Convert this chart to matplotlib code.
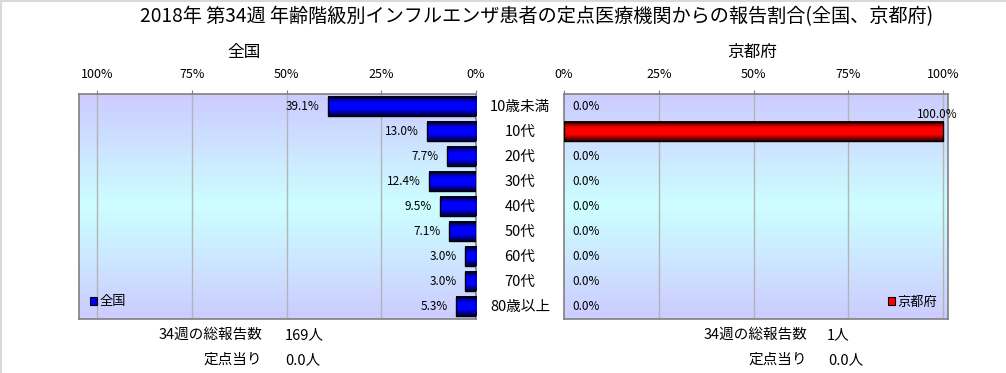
import numpy as np
import matplotlib
matplotlib.use('Agg')
from matplotlib import pyplot as plt
from matplotlib.colors import LinearSegmentedColormap
from matplotlib.patches import Patch
from matplotlib.lines import Line2D
import matplotlib.transforms as mtransforms

plt.rcParams['font.family'] = ['Noto Sans CJK JP', 'DejaVu Sans']

title = '2018年 第34週 年齢階級別インフルエンザ患者の定点医療機関からの報告割合(全国、京都府)'
categories = ['10歳未満', '10代', '20代', '30代', '40代', '50代', '60代', '70代', '80歳以上']
national = [39.1, 13.0, 7.7, 12.4, 9.5, 7.1, 3.0, 3.0, 5.3]
kyoto = [0.0, 100.0, 0.0, 0.0, 0.0, 0.0, 0.0, 0.0, 0.0]
ticks = [0, 25, 50, 75, 100]
tickLabels = ['0%', '25%', '50%', '75%', '100%']
nationalTotal = '169人'
nationalPerSite = '0.0人'
kyotoTotal = '1人'
kyotoPerSite = '0.0人'

W, H = 1006, 373
fig = plt.figure(figsize=(W / 100, H / 100), dpi=100)

def px(x, y):
    return x / W, 1 - y / H

bgCmap = LinearSegmentedColormap.from_list('bg', ['#ccccff', '#ccffff', '#ccccff'])
blueCmap = LinearSegmentedColormap.from_list('blue', ['#000033', '#0000ff', '#0000ff', '#000033'])
redCmap = LinearSegmentedColormap.from_list('red', ['#330000', '#ff0000', '#ff0000', '#330000'])
grad = np.linspace(0, 1, 64).reshape(-1, 1)

def drawPanel(ax, values, cmap, color, xlim, name, legendLoc):
    ax.imshow(grad, cmap=bgCmap, extent=[0, 1, 0, 1], transform=ax.transAxes,
              aspect='auto', zorder=0)
    y = np.arange(len(categories))
    bars = ax.barh(y, values, height=0.78, facecolor='none', edgecolor='black',
                   linewidth=1, zorder=4)
    for bar in bars:
        if bar.get_width() <= 0:
            bar.set_linewidth(0)
            continue
        x0, y0 = bar.get_x(), bar.get_y()
        ax.imshow(grad, cmap=cmap, extent=[x0, x0 + bar.get_width(), y0 + bar.get_height(), y0],
                  aspect='auto', zorder=3, interpolation='bilinear')
    for t in ticks[1:]:
        ax.axvline(t, color='#b4b4b4', linewidth=1, zorder=1)
    ax.set_xlim(*xlim)
    ax.set_ylim(len(categories) - 0.5, -0.5)
    ax.xaxis.tick_top()
    ax.set_xticks(ticks, tickLabels)
    ax.tick_params(axis='x', length=3, color='#808080', pad=6, labelsize=9)
    ax.set_yticks([])
    for s in ax.spines.values():
        s.set_color('#808080')
        s.set_linewidth(1.2)
    ax.legend(handles=[Patch(facecolor=color, edgecolor='black', linewidth=0.8)], labels=[name],
              loc=legendLoc, frameon=False, fontsize=9.5, handlelength=0.55, handleheight=0.55,
              handletextpad=0.2, borderaxespad=0.4)
    return bars

ax1 = fig.add_axes([79 / W, 1 - 319 / H, (476 - 79) / W, 225 / H])
ax2 = fig.add_axes([564 / W, 1 - 319 / H, (948 - 564) / W, 225 / H])

drawPanel(ax1, national, blueCmap, '#0000ff', (104.75, 0), '全国', 'lower left')
drawPanel(ax2, kyoto, redCmap, '#ff0000', (0, 101.3), '京都府', 'lower right')

for i, v in enumerate(national):
    ax1.text(v + 2.1, i, '%.1f%%' % v, ha='right', va='center', fontsize=8.5, zorder=5)
for i, v in enumerate(kyoto):
    if v >= 95:
        ax2.text(v - 1.5, i - 0.42, '%.1f%%' % v, ha='center', va='bottom', fontsize=8.5, zorder=5)
    else:
        ax2.text(v + 2.1, i, '%.1f%%' % v, ha='left', va='center', fontsize=8.5, zorder=5)

trans = mtransforms.blended_transform_factory(fig.transFigure, ax1.transData)
for i, c in enumerate(categories):
    fig.text(520 / W, i, c, transform=trans, ha='center', va='center', fontsize=10.5)

fig.text(*px(537, 17), title, ha='center', va='center', fontsize=13.8)
fig.text(*px(244, 52), '全国', ha='center', va='center', fontsize=12)
fig.text(*px(752, 52), '京都府', ha='center', va='center', fontsize=12)

fig.text(*px(262, 335), '34週の総報告数', ha='right', va='center', fontsize=10.5)
fig.text(*px(285, 335), nationalTotal, ha='left', va='center', fontsize=10.5)
fig.text(*px(262, 360), '定点当り', ha='right', va='center', fontsize=10.5)
fig.text(*px(285, 360), nationalPerSite, ha='left', va='center', fontsize=10.5)
fig.text(*px(807, 335), '34週の総報告数', ha='right', va='center', fontsize=10.5)
fig.text(*px(827, 335), kyotoTotal, ha='left', va='center', fontsize=10.5)
fig.text(*px(807, 360), '定点当り', ha='right', va='center', fontsize=10.5)
fig.text(*px(828, 360), kyotoPerSite, ha='left', va='center', fontsize=10.5)

fig.add_artist(Line2D([0, 1], [0.998, 0.998], transform=fig.transFigure, color='#d9d9d9', linewidth=1.5))
fig.add_artist(Line2D([0.001, 0.001], [0, 1], transform=fig.transFigure, color='#d9d9d9', linewidth=1.5))

fig.savefig('out.png', dpi=100)
